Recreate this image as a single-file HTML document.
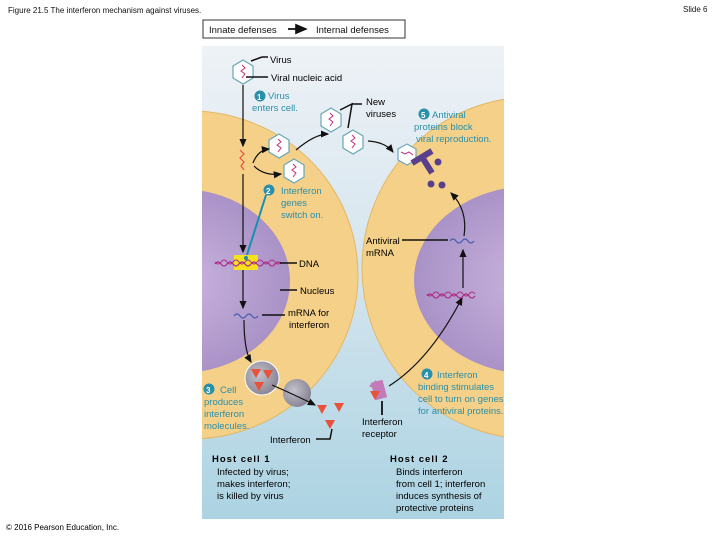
<!DOCTYPE html>
<html><head><meta charset="utf-8"><style>
html,body{margin:0;padding:0;background:#fff;}
svg{display:block;font-family:"Liberation Sans",sans-serif;}
</style></head><body>
<svg width="720" height="540" viewBox="0 0 720 540" xmlns="http://www.w3.org/2000/svg">
<defs>
<linearGradient id="bg" x1="0" y1="0" x2="0" y2="1">
<stop offset="0" stop-color="#eef2f6"/><stop offset="0.5" stop-color="#d3e4ee"/><stop offset="1" stop-color="#acd3e2"/></linearGradient>
<radialGradient id="nuc" cx="0.5" cy="0.5" r="0.6"><stop offset="0" stop-color="#c9b5de"/><stop offset="1" stop-color="#a38bc2"/></radialGradient>
<radialGradient id="ves" cx="0.4" cy="0.4" r="0.6"><stop offset="0" stop-color="#c4c2cc"/><stop offset="1" stop-color="#8a8696"/></radialGradient>
<clipPath id="cp"><rect x="202" y="46" width="302" height="473"/></clipPath>
<marker id="ar" markerWidth="8" markerHeight="8" refX="6" refY="3" orient="auto"><path d="M0,0 L7,3 L0,6z" fill="#111"/></marker>
<g id="hex"><polygon points="0,-12 10,-6 10,6 0,12 -10,6 -10,-6" fill="#fff" stroke="#6aa7b4" stroke-width="1.2"/><path d="M-1,-7 l3,3 l-4,3 l4,3 l-3,4" fill="none" stroke="#c0307a" stroke-width="1"/></g>
<g id="tri"><polygon points="-5,-4 5,-4 0,5" fill="#e8523a"/></g>
</defs>
<text x="8" y="13" font-size="8" fill="#111">Figure 21.5 The interferon mechanism against viruses.</text>
<text x="683" y="12" font-size="8" fill="#111">Slide 6</text>
<rect x="203" y="20" width="202" height="18" fill="#fff" stroke="#333" stroke-width="1"/>
<text x="209" y="33" font-size="9.5" fill="#111">Innate defenses</text>
<line x1="288" y1="29" x2="306" y2="29" stroke="#111" stroke-width="1.8" marker-end="url(#ar)"/>
<text x="316" y="33" font-size="9.5" fill="#111">Internal defenses</text>

<g clip-path="url(#cp)">
<rect x="202" y="46" width="302" height="473" fill="url(#bg)"/>
<ellipse cx="190" cy="275" rx="168" ry="164" fill="#f4d089" stroke="#e3b866" stroke-width="1"/>
<ellipse cx="180" cy="281" rx="110" ry="92" fill="url(#nuc)"/>
<ellipse cx="532" cy="268" rx="170" ry="171" fill="#f4d089" stroke="#e3b866" stroke-width="1"/>
<ellipse cx="532" cy="280" rx="118" ry="94" fill="url(#nuc)"/>
</g>

<use href="#hex" x="243" y="72"/>
<use href="#hex" x="331" y="120"/>
<use href="#hex" x="353" y="142"/>
<use href="#hex" x="279" y="146"/>
<use href="#hex" x="294" y="171"/>
<line x1="251" y1="61" x2="262" y2="57" stroke="#111" stroke-width="1.5"/><line x1="262" y1="57" x2="268" y2="57" stroke="#111" stroke-width="1.5"/>
<line x1="246" y1="77" x2="268" y2="77" stroke="#111" stroke-width="1.5"/>
<text x="270" y="63" font-size="9.5">Virus</text>
<text x="271" y="81" font-size="9.5">Viral nucleic acid</text>
<polyline points="340,110 352,104 348,128" fill="none" stroke="#111" stroke-width="1.5"/><line x1="352" y1="104" x2="362" y2="104" stroke="#111" stroke-width="1.5"/>
<text x="366" y="105" font-size="9.5">New</text><text x="366" y="117" font-size="9.5">viruses</text>

<circle cx="260" cy="96" r="5.5" fill="#2a8fa8"/><text x="257" y="100" font-size="8" fill="#fff" font-weight="bold">1</text>
<text x="268" y="99" font-size="9.5" fill="#2a8fa8">Virus</text>
<text x="252" y="111" font-size="9.5" fill="#2a8fa8">enters cell.</text>
<line x1="243" y1="85" x2="243" y2="146" stroke="#111" stroke-width="1.2" marker-end="url(#ar)"/>
<path d="M240,150 l4,4 l-4,4 l4,4 l-3,4 l3,4" fill="none" stroke="#e8523a" stroke-width="1.2"/>
<line x1="243" y1="174" x2="243" y2="252" stroke="#111" stroke-width="1.2" marker-end="url(#ar)"/>
<path d="M253,163 Q258,150 269,149" fill="none" stroke="#111" stroke-width="1.2" marker-end="url(#ar)"/>
<path d="M254,166 Q264,176 281,174" fill="none" stroke="#111" stroke-width="1.2" marker-end="url(#ar)"/>
<path d="M296,150 Q315,134 328,134" fill="none" stroke="#111" stroke-width="1.2" marker-end="url(#ar)"/>
<path d="M368,141 Q385,142 393,152" fill="none" stroke="#111" stroke-width="1.2" marker-end="url(#ar)"/>

<polygon points="407,144 416,149 416,160 407,165 398,160 398,149" fill="#fff" stroke="#6aa7b4" stroke-width="1.2"/>
<path d="M401,152 l4,2 l4,-2 l4,3" fill="none" stroke="#c0307a" stroke-width="1"/>
<line x1="412" y1="163" x2="432" y2="151" stroke="#5a3f8a" stroke-width="6"/>
<line x1="422" y1="157" x2="432" y2="173" stroke="#5a3f8a" stroke-width="6"/>
<circle cx="438" cy="162" r="3.5" fill="#5a3f8a"/><circle cx="431" cy="184" r="3.5" fill="#5a3f8a"/><circle cx="442" cy="185" r="3.5" fill="#5a3f8a"/>
<circle cx="424" cy="114" r="5.5" fill="#2a8fa8"/><text x="421" y="118" font-size="8" fill="#fff" font-weight="bold">5</text>
<text x="432" y="118" font-size="9.5" fill="#2a8fa8">Antiviral</text>
<text x="414" y="130" font-size="9.5" fill="#2a8fa8">proteins block</text>
<text x="416" y="142" font-size="9.5" fill="#2a8fa8">viral reproduction.</text>

<circle cx="269" cy="190" r="5.5" fill="#2a8fa8"/><text x="266" y="194" font-size="8" fill="#fff" font-weight="bold">2</text>
<text x="281" y="194" font-size="9.5" fill="#2a8fa8">Interferon</text>
<text x="281" y="206" font-size="9.5" fill="#2a8fa8">genes</text>
<text x="281" y="218" font-size="9.5" fill="#2a8fa8">switch on.</text>
<line x1="266" y1="195" x2="246" y2="258" stroke="#1a8fb0" stroke-width="2"/>
<rect x="234" y="255" width="24" height="15" fill="#f6e21c"/>
<path d="M215,264 q3,-4 6,0 t6,0 t6,0 t6,0 t6,0 t6,0 t6,0 t6,0 t6,0 t6,0 t6,0" fill="none" stroke="#b0308a" stroke-width="1.2"/>
<path d="M215,262 q3,4 6,0 t6,0 t6,0 t6,0 t6,0 t6,0 t6,0 t6,0 t6,0 t6,0 t6,0" fill="none" stroke="#b0308a" stroke-width="1"/>
<circle cx="246" cy="258" r="2" fill="#1a8fb0"/>
<line x1="280" y1="263" x2="297" y2="263" stroke="#111" stroke-width="1.5"/>
<text x="299" y="267" font-size="9.5">DNA</text>
<line x1="243" y1="270" x2="243" y2="308" stroke="#111" stroke-width="1.2" marker-end="url(#ar)"/>
<line x1="280" y1="290" x2="297" y2="290" stroke="#111" stroke-width="1.5"/>
<text x="300" y="294" font-size="9.5">Nucleus</text>
<path d="M234,316 q3,-4 6,0 t6,0 t6,0 t6,0" fill="none" stroke="#4a5fb0" stroke-width="1.2"/>
<line x1="262" y1="315" x2="285" y2="315" stroke="#111" stroke-width="1.5"/>
<text x="288" y="316" font-size="9.5">mRNA for</text>
<text x="289" y="328" font-size="9.5">interferon</text>
<path d="M244,320 Q244,350 251,362" fill="none" stroke="#111" stroke-width="1.2" marker-end="url(#ar)"/>

<circle cx="262" cy="378" r="17" fill="url(#ves)" stroke="#fff" stroke-width="1"/>
<use href="#tri" x="256" y="373"/><use href="#tri" x="268" y="374"/><use href="#tri" x="259" y="386"/>
<circle cx="297" cy="393" r="14" fill="url(#ves)"/>
<path d="M272,385 Q295,395 315,405" fill="none" stroke="#111" stroke-width="1.2" marker-end="url(#ar)"/>
<use href="#tri" x="322" y="409"/><use href="#tri" x="339" y="407"/><use href="#tri" x="330" y="424"/>
<polyline points="316,439 330,439 332,429" fill="none" stroke="#111" stroke-width="1.5"/>
<text x="270" y="443" font-size="9.5">Interferon</text>
<circle cx="209" cy="389" r="5.5" fill="#2a8fa8"/><text x="206" y="393" font-size="8" fill="#fff" font-weight="bold">3</text>
<text x="220" y="393" font-size="9.5" fill="#2a8fa8">Cell</text>
<text x="204" y="405" font-size="9.5" fill="#2a8fa8">produces</text>
<text x="204" y="417" font-size="9.5" fill="#2a8fa8">interferon</text>
<text x="204" y="429" font-size="9.5" fill="#2a8fa8">molecules.</text>

<rect x="373" y="381" width="12" height="18" fill="#c27ab8" transform="rotate(-15 379 390)"/>
<polygon points="369,386 376,380 380,392" fill="#c27ab8"/>
<use href="#tri" x="375" y="395"/>
<line x1="382" y1="401" x2="382" y2="415" stroke="#111" stroke-width="1.8"/>
<text x="362" y="425" font-size="9.5">Interferon</text>
<text x="362" y="437" font-size="9.5">receptor</text>
<path d="M389,386 Q430,360 462,298" fill="none" stroke="#111" stroke-width="1.2" marker-end="url(#ar)"/>
<path d="M427,296 q3,-4 6,0 t6,0 t6,0 t6,0 t6,0 t6,0 t6,0 t6,0" fill="none" stroke="#b0308a" stroke-width="1.2"/>
<path d="M427,294 q3,4 6,0 t6,0 t6,0 t6,0 t6,0 t6,0 t6,0 t6,0" fill="none" stroke="#b0308a" stroke-width="1"/>
<line x1="463" y1="288" x2="463" y2="250" stroke="#111" stroke-width="1.2" marker-end="url(#ar)"/>
<path d="M450,241 q3,-4 6,0 t6,0 t6,0 t6,0" fill="none" stroke="#4a5fb0" stroke-width="1.2"/>
<line x1="402" y1="240" x2="448" y2="240" stroke="#111" stroke-width="1.5"/>
<text x="366" y="244" font-size="9.5">Antiviral</text>
<text x="366" y="256" font-size="9.5">mRNA</text>
<path d="M464,236 Q468,210 451,193" fill="none" stroke="#111" stroke-width="1.2" marker-end="url(#ar)"/>

<circle cx="427" cy="374" r="5.5" fill="#2a8fa8"/><text x="424" y="378" font-size="8" fill="#fff" font-weight="bold">4</text>
<text x="437" y="378" font-size="9.5" fill="#2a8fa8">Interferon</text>
<text x="418" y="390" font-size="9.5" fill="#2a8fa8">binding stimulates</text>
<text x="418" y="402" font-size="9.5" fill="#2a8fa8">cell to turn on genes</text>
<text x="418" y="414" font-size="9.5" fill="#2a8fa8">for antiviral proteins.</text>

<text x="212" y="462" font-size="9.5" font-weight="bold" letter-spacing="1">Host cell 1</text>
<text x="217" y="475" font-size="9.5">Infected by virus;</text>
<text x="217" y="487" font-size="9.5">makes interferon;</text>
<text x="217" y="499" font-size="9.5">is killed by virus</text>
<text x="390" y="462" font-size="9.5" font-weight="bold" letter-spacing="1">Host cell 2</text>
<text x="396" y="475" font-size="9.5">Binds interferon</text>
<text x="396" y="487" font-size="9.5">from cell 1; interferon</text>
<text x="396" y="499" font-size="9.5">induces synthesis of</text>
<text x="396" y="511" font-size="9.5">protective proteins</text>

<text x="6" y="530" font-size="8">© 2016 Pearson Education, Inc.</text>
</svg>
</body></html>
